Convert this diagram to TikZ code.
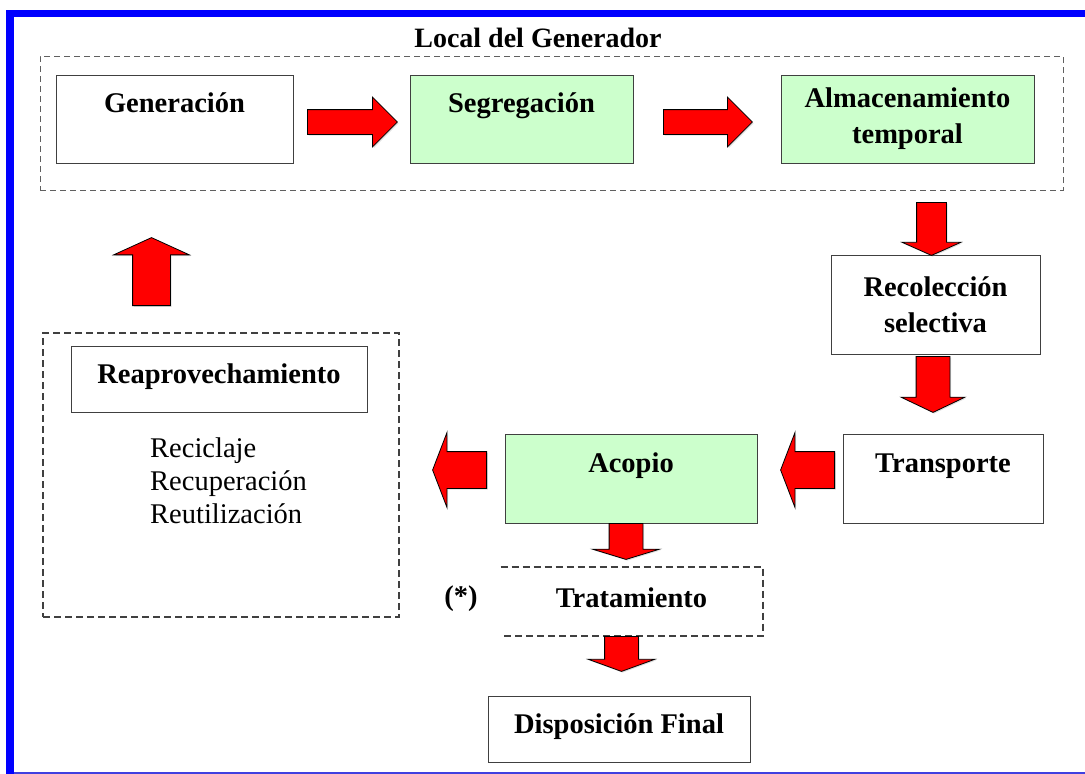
\documentclass[tikz,border=0pt]{standalone}
\usepackage{fontspec}
\setmainfont{Liberation Serif}
\usetikzlibrary{shapes.arrows,shadows}

\begin{document}
\begin{tikzpicture}[x=1pt,y=-1pt]
  \definecolor{fblue}{RGB}{0,0,255}
  \definecolor{fline}{RGB}{64,64,224}
  \definecolor{fgreen}{RGB}{204,255,204}
  \definecolor{fred}{RGB}{255,0,0}
  \definecolor{fdark}{RGB}{64,64,64}
  \definecolor{fgray}{RGB}{96,96,96}
  \tikzset{
    box/.style={draw=fdark,line width=1pt,inner sep=0pt,font=\bfseries\fontsize{28.5}{36}\selectfont},
    twobox/.style={box,align=center},
    blk/.style={single arrow,draw=black,fill=fred,line width=0.8pt,inner sep=0pt,anchor=tail,
      drop shadow={shadow xshift=1.2pt,shadow yshift=-1.2pt,opacity=0.25}},
    grp/.style={draw=fdark,line width=2pt,dash pattern=on 7pt off 4pt},
  }
  \useasboundingbox (0,0) rectangle (1085,774);
  % frame
  \fill[fblue] (6,10) rectangle (1085,17);
  \fill[fblue] (6,10) rectangle (14,774);
  \draw[fline,line width=1.5pt] (14,773) -- (1085,773);
  % local del generador
  \node[draw=fgray,line width=0.8pt,dash pattern=on 6pt off 4pt,inner sep=0pt,
    minimum width=1023pt,minimum height=134pt] (local) at (551.5,123) {};
  \node[anchor=base,font=\bfseries\fontsize{28}{34}\selectfont] (title) at (538,47) {Local del Generador};
  \node[box,minimum width=237pt,text height=37pt,text depth=51pt] (gen) at (174.5,119) {Generación};
  \node[box,fill=fgreen,minimum width=223pt,text height=37pt,text depth=51pt] (seg) at (521.5,119) {Segregación};
  \node[twobox,fill=fgreen,minimum width=253pt,minimum height=88pt] (alm) at (907.5,119) {Almacenamiento\\temporal};
  % recorrido
  \node[twobox,minimum width=209pt,minimum height=99pt] (rec) at (935.5,304.5) {Recolección\\selectiva};
  \node[box,minimum width=200pt,text height=38pt,text depth=51pt] (trans) at (943,478.5) {Transporte};
  \node[box,fill=fgreen,minimum width=252pt,text height=38pt,text depth=51pt] (acop) at (631,478.5) {Acopio};
  \node[box,draw=none,minimum width=261pt,text height=40pt,text depth=28pt] (trat) at (631.5,601) {Tratamiento};
  \draw[grp] (trat.north west) -- (trat.north east) -- (trat.south east) -- (trat.south west);
  \node[anchor=base,font=\bfseries\fontsize{28.5}{36}\selectfont] (ast) at (461,605) {(*)};
  \node[box,minimum width=262pt,text height=37pt,text depth=29pt] (disp) at (619,729) {Disposición Final};
  % reaprovechamiento
  \node[grp,inner sep=0pt,minimum width=356pt,minimum height=284pt] (reapgrp) at (221,475) {};
  \node[box,minimum width=296pt,text height=37pt,text depth=29pt] (reap) at (219,379) {Reaprovechamiento};
  \node[anchor=north west,align=left,inner sep=0pt,font=\fontsize{28.5}{33}\selectfont] (usos) at (150,437.5)
    {Reciclaje\\Recuperación\\Reutilización};
  % flechas
  \node[blk,minimum height=90pt,inner ysep=12pt,single arrow head extend=12.5pt,single arrow tip angle=90] (ar1) at (307,122) {};
  \node[blk,minimum height=89pt,inner ysep=12pt,single arrow head extend=12.5pt,single arrow tip angle=90] (ar2) at (663,122) {};
  \node[blk,rotate=-90,minimum height=53pt,inner ysep=14.5pt,single arrow head extend=14.5pt,single arrow tip angle=132] (ar3) at (931.5,202) {};
  \node[blk,rotate=-90,minimum height=56pt,inner ysep=16.5pt,single arrow head extend=15pt,single arrow tip angle=129] (ar4) at (933,356) {};
  \node[blk,rotate=180,minimum height=54pt,inner ysep=18pt,single arrow head extend=19pt,single arrow tip angle=138] (ar5) at (835,470) {};
  \node[blk,rotate=180,minimum height=54pt,inner ysep=18pt,single arrow head extend=19pt,single arrow tip angle=138] (ar6) at (487,470) {};
  \node[blk,rotate=90,minimum height=68pt,inner ysep=18.5pt,single arrow head extend=19pt,single arrow tip angle=131] (ar7) at (151.5,306) {};
  \node[blk,rotate=-90,minimum height=36pt,inner ysep=16.5pt,single arrow head extend=16.5pt,single arrow tip angle=146] (ar8) at (626,523) {};
  \node[blk,rotate=-90,minimum height=35pt,inner ysep=16.5pt,single arrow head extend=16.5pt,single arrow tip angle=140] (ar9) at (621.5,636) {};
\end{tikzpicture}
\end{document}
